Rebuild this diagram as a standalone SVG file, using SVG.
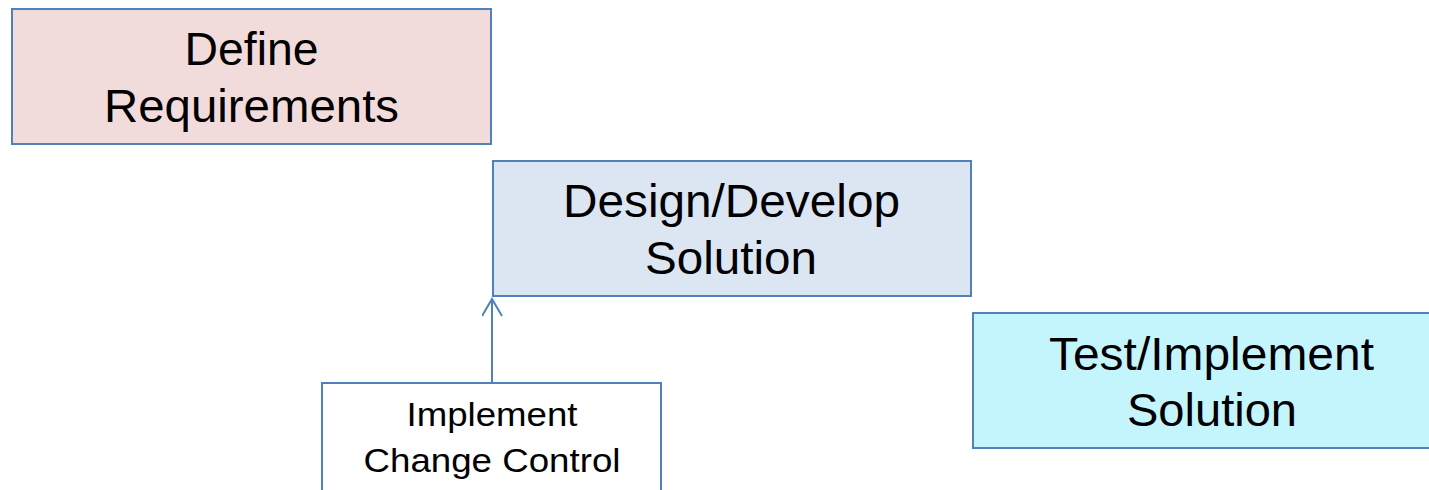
<svg xmlns="http://www.w3.org/2000/svg" width="1429" height="490" viewBox="0 0 1429 490">
  <style>
    .box { stroke: #4f81bd; stroke-width: 2; }
    .big { font-family: "Liberation Sans", Arial, sans-serif; font-size: 47px; fill: #000; text-anchor: middle; }
    .small { font-family: "Liberation Sans", Arial, sans-serif; font-size: 34px; fill: #000; text-anchor: middle; }
    .link { stroke: #4f81bd; stroke-width: 2; fill: none; }
  </style>
  <defs>
    <marker id="open-arrow" markerWidth="24" markerHeight="24" refX="18" refY="10" orient="auto" markerUnits="userSpaceOnUse">
      <path d="M1,0 L18,10 L1,20" fill="none" stroke="#4f81bd" stroke-width="2"/>
    </marker>
  </defs>
  <rect width="1429" height="490" fill="#ffffff"/>

  <g id="define-requirements">
    <rect class="box" x="12" y="9" width="479" height="135" fill="#f2dcdb"/>
    <text class="big" x="251.5" y="65" textLength="134" lengthAdjust="spacingAndGlyphs">Define</text>
    <text class="big" x="251.5" y="122" textLength="295" lengthAdjust="spacingAndGlyphs">Requirements</text>
  </g>

  <g id="design-develop">
    <rect class="box" x="493" y="161" width="478" height="135" fill="#dce6f2"/>
    <text class="big" x="731.5" y="217" textLength="337" lengthAdjust="spacingAndGlyphs">Design/Develop</text>
    <text class="big" x="731" y="274" textLength="172" lengthAdjust="spacingAndGlyphs">Solution</text>
  </g>

  <g id="test-implement">
    <rect class="box" x="973" y="313" width="478" height="135" fill="#c5f5fc"/>
    <text class="big" x="1211.5" y="370" textLength="325" lengthAdjust="spacingAndGlyphs">Test/Implement</text>
    <text class="big" x="1212" y="426" textLength="170" lengthAdjust="spacingAndGlyphs">Solution</text>
  </g>

  <g id="change-control">
    <rect class="box" x="322" y="383" width="339" height="130" fill="#ffffff"/>
    <text class="small" x="492" y="426" textLength="171" lengthAdjust="spacingAndGlyphs">Implement</text>
    <text class="small" x="492" y="472" textLength="257" lengthAdjust="spacingAndGlyphs">Change Control</text>
  </g>

  <g id="connectors">
    <line class="link" x1="492" y1="383" x2="492" y2="299" marker-end="url(#open-arrow)"/>
  </g>
</svg>
